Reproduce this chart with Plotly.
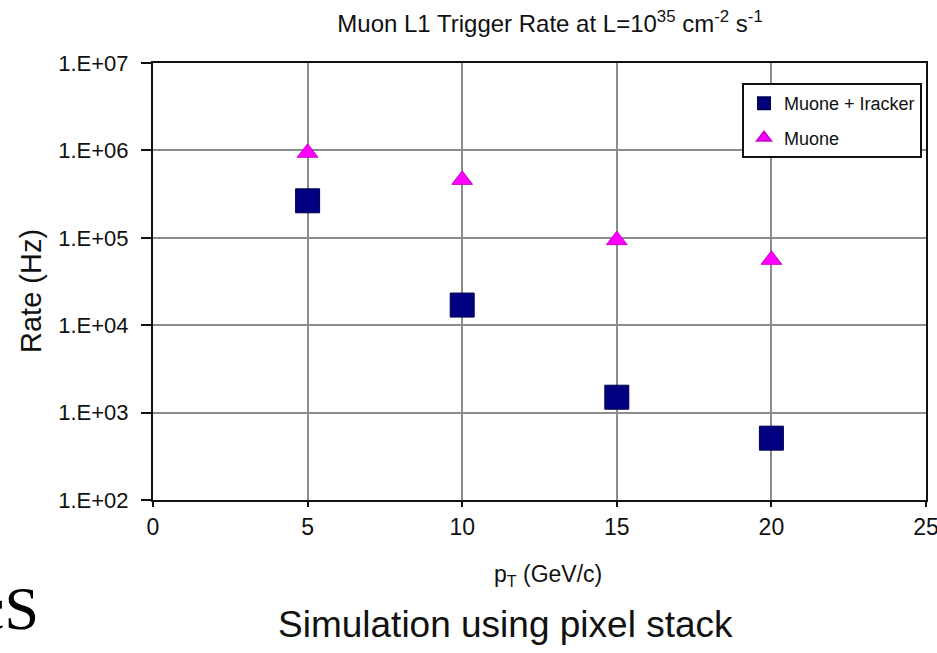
import plotly.graph_objects as go

# Transverse momentum thresholds (GeV/c)
pt = [5, 10, 15, 20]
# L1 trigger rates (Hz)
rate_muon_tracker = [2.65e5, 1.7e4, 1.5e3, 5.1e2]
rate_muon = [9.4e5, 4.6e5, 9.4e4, 5.6e4]

y_tickvals = [1e2, 1e3, 1e4, 1e5, 1e6, 1e7]
y_ticktext = ["1.E+02", "1.E+03", "1.E+04", "1.E+05", "1.E+06", "1.E+07"]
x_tickvals = [0, 5, 10, 15, 20, 25]

sans = "Liberation Sans, Arial, sans-serif"
ink = "#111111"

fig = go.Figure()
fig.add_trace(go.Scatter(
    x=pt, y=rate_muon_tracker, mode="markers", name="Muone + Iracker",
    legendgroup="a",
    marker=dict(symbol="square", size=24, color="#000080",
                line=dict(color="#000050", width=1)),
))
fig.add_trace(go.Scatter(
    x=pt, y=rate_muon, mode="markers", name="Muone",
    legendgroup="b",
    marker=dict(symbol="triangle-up", size=18, color="#ff00ff",
                line=dict(color="#cc00cc", width=1)),
))

fig.update_layout(
    width=937, height=653,
    margin=dict(l=153, r=11, t=63, b=153),
    paper_bgcolor="white", plot_bgcolor="white",
    font=dict(family=sans, color=ink, size=22),
    title=dict(
        text="Muon L1 Trigger Rate at L=10<sup>35</sup> cm<sup>-2</sup> s<sup>-1</sup>",
        x=0.587, xanchor="center", y=0.964, yanchor="middle",
        font=dict(family=sans, size=24, color=ink),
    ),
    showlegend=True,
    legend=dict(
        x=0.762, y=0.954, xanchor="left", yanchor="top",
        bgcolor="white", bordercolor=ink, borderwidth=2,
        font=dict(family=sans, size=18, color=ink),
        itemsizing="constant", tracegroupgap=8,
    ),
)

fig.update_xaxes(
    range=[0, 25], tickvals=x_tickvals, automargin=False,
    ticklabeloverflow="allow",
    showgrid=True, gridcolor="#8c8c8c", gridwidth=1.5,
    showline=True, linecolor=ink, linewidth=2, mirror=True,
    ticks="outside", ticklen=5, tickcolor=ink, tickwidth=1.5,
    zeroline=False,
    tickfont=dict(family=sans, size=23),
)
fig.update_yaxes(
    type="log", range=[2, 7], tickvals=y_tickvals, ticktext=y_ticktext,
    automargin=False,
    showgrid=True, gridcolor="#8c8c8c", gridwidth=1.5,
    showline=True, linecolor=ink, linewidth=2, mirror=True,
    ticks="outside", ticklen=10, tickcolor=ink, tickwidth=1.5,
    ticklabelstandoff=8,
    zeroline=False,
    tickfont=dict(family=sans, size=22),
)

# Axis titles
fig.add_annotation(
    text="p<sub>T</sub> (GeV/c)", xref="paper", yref="paper",
    x=0.511, y=-0.172, xanchor="center", yanchor="middle", showarrow=False,
    font=dict(family=sans, size=23, color=ink),
)
fig.add_annotation(
    text="Rate (Hz)", xref="paper", yref="paper", textangle=-90,
    x=-0.158, y=0.478, xanchor="center", yanchor="middle", showarrow=False,
    font=dict(family=sans, size=29, color=ink),
)

# Caption under the chart
fig.add_annotation(
    text="Simulation using pixel stack", xref="paper", yref="paper",
    x=0.456, y=-0.284, xanchor="center", yanchor="middle", showarrow=False,
    font=dict(family=sans, size=37, color=ink),
)
# Trailing fragment of the slide heading at the lower-left edge
fig.add_annotation(
    text="cS", xref="paper", yref="paper",
    x=-0.145, y=-0.248, xanchor="right", yanchor="middle", showarrow=False,
    font=dict(family="Liberation Serif, Times New Roman, serif", size=62, color="#000000"),
)

fig.write_html("out.html")
